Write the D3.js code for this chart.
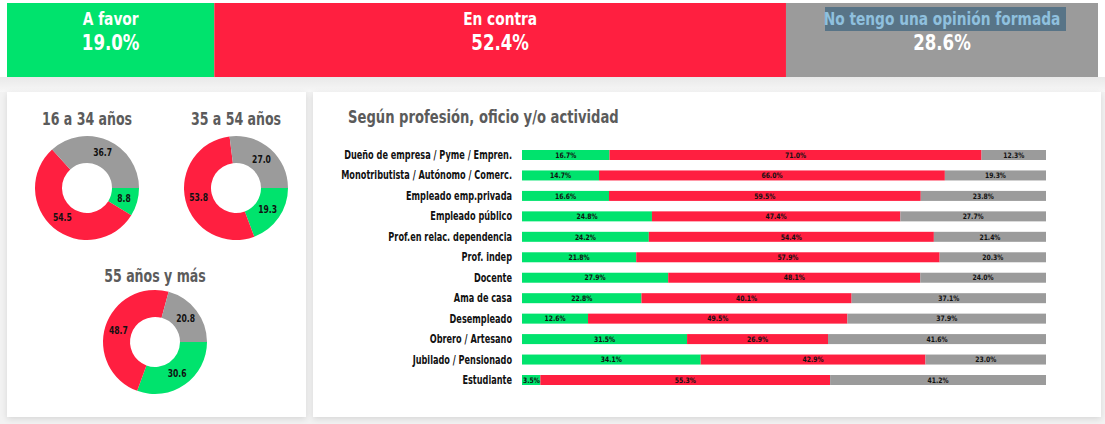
<!DOCTYPE html>
<html>
<head>
<meta charset="utf-8">
<script src="https://cdn.jsdelivr.net/npm/d3@7"></script>
<style>
  html, body { margin: 0; padding: 0; background: #f3f3f3; }
  svg { display: block; }
  text { font-family: "DejaVu Sans Condensed", "Liberation Sans Narrow", "Liberation Sans", sans-serif; font-weight: bold; }
</style>
</head>
<body>
<svg id="chart" width="1105" height="424"></svg>
<script>
// ---- Data ----
const topCategories = ["A favor", "En contra", "No tengo una opinión formada"];
const topValues = [19.0, 52.4, 28.6];

const ageGroups = ["16 a 34 años", "35 a 54 años", "55 años y más"];
const ageFavor = [8.8, 19.3, 30.6];
const ageContra = [54.5, 53.8, 48.7];
const ageNoOpinion = [36.7, 27.0, 20.8];

const profTitle = "Según profesión, oficio y/o actividad";
const professions = [
  "Dueño de empresa / Pyme / Empren.",
  "Monotributista / Autónomo / Comerc.",
  "Empleado emp.privada",
  "Empleado público",
  "Prof.en relac. dependencia",
  "Prof. indep",
  "Docente",
  "Ama de casa",
  "Desempleado",
  "Obrero / Artesano",
  "Jubilado / Pensionado",
  "Estudiante"
];
const profFavor =     [16.7, 14.7, 16.6, 24.8, 24.2, 21.8, 27.9, 22.8, 12.6, 31.5, 34.1, 3.5];
const profContra =    [71.0, 66.0, 59.5, 47.4, 54.4, 57.9, 48.1, 40.1, 49.5, 26.9, 42.9, 55.3];
const profNoOpinion = [12.3, 19.3, 23.8, 27.7, 21.4, 20.3, 24.0, 37.1, 37.9, 41.6, 23.0, 41.2];

const colors = ["#00e36d", "#ff1f40", "#9b9b9b"];

// ---- Drawing ----
const svg = d3.select("#chart");

// condensed text helper: horizontal squeeze around the anchor point
function ctext(parent, x, y, str, size, fill, anchor, sx) {
  const g = parent.append("g").attr("transform", `translate(${x},${y}) scale(${sx},1)`);
  return g.append("text").attr("x", 0).attr("y", 0).attr("text-anchor", anchor)
    .attr("font-size", size).attr("fill", fill).text(str);
}

const defs = svg.append("defs");
const sh = defs.append("filter").attr("id", "shadow").attr("x", "-5%").attr("y", "-5%").attr("width", "110%").attr("height", "110%");
sh.append("feGaussianBlur").attr("in", "SourceAlpha").attr("stdDeviation", 3).attr("result", "b");
sh.append("feOffset").attr("in", "b").attr("dx", 0).attr("dy", 2).attr("result", "o");
sh.append("feComponentTransfer").attr("in", "o").attr("result", "o2")
  .append("feFuncA").attr("type", "linear").attr("slope", 0.12);
const m = sh.append("feMerge");
m.append("feMergeNode").attr("in", "o2");
m.append("feMergeNode").attr("in", "SourceGraphic");

svg.append("rect").attr("x", 0).attr("y", 0).attr("width", 1105).attr("height", 424).attr("fill", "#f2f2f2");
svg.append("rect").attr("x", 0).attr("y", 0).attr("width", 1105).attr("height", 80).attr("fill", "#ffffff");
const grad = defs.append("linearGradient").attr("id", "g1").attr("x1", 0).attr("y1", 0).attr("x2", 0).attr("y2", 1);
grad.append("stop").attr("offset", 0).attr("stop-color", "#e9e9e9");
grad.append("stop").attr("offset", 1).attr("stop-color", "#f7f7f7");
svg.append("rect").attr("x", 0).attr("y", 77).attr("width", 1105).attr("height", 15).attr("fill", "url(#g1)");

svg.append("rect").attr("x", 7).attr("y", 92).attr("width", 299).attr("height", 325).attr("fill", "#fff").attr("filter", "url(#shadow)");
svg.append("rect").attr("x", 313).attr("y", 92).attr("width", 788).attr("height", 325).attr("fill", "#fff").attr("filter", "url(#shadow)");

// ---- Top stacked bar ----
const xTop = d3.scaleLinear().domain([0, 100]).range([7, 1098]);
let acc = 0;
const topData = topValues.map((v, i) => { const d = { cat: topCategories[i], v, x0: acc, x1: acc + v, c: colors[i] }; acc += v; return d; });
const tg = svg.append("g");
tg.selectAll("rect").data(topData).join("rect")
  .attr("x", d => xTop(d.x0)).attr("y", 3)
  .attr("width", d => xTop(d.x1) - xTop(d.x0)).attr("height", 74)
  .attr("fill", d => d.c);

topData.forEach((d, i) => {
  const cx = (xTop(d.x0) + xTop(d.x1)) / 2;
  if (i === 2) {
    tg.append("rect").attr("x", 825).attr("y", 7).attr("width", 241).attr("height", 24).attr("fill", "#587487");
  }
  ctext(tg, cx, 25, d.cat, 17, i === 2 ? "#8fc0de" : "#fff", "middle", 0.9);
  ctext(tg, cx, 49.5, d.v.toFixed(1) + "%", 20.5, "#fff", "middle", 0.9);
});

// ---- Donuts ----
const donutPos = [[87, 188, 125], [236, 188, 125], [155, 342, 282]];
const pie = d3.pie().sort(null).startAngle(Math.PI / 2).endAngle(Math.PI / 2 + 2 * Math.PI);
const arc = d3.arc().innerRadius(25).outerRadius(52);
const labelArc = d3.arc().innerRadius(38.5).outerRadius(38.5);

ageGroups.forEach((name, i) => {
  const [cx, cy, ty] = donutPos[i];
  ctext(svg, cx, ty, name, 17.5, "#5b5b5b", "middle", 0.8);
  const vals = [ageFavor[i], ageContra[i], ageNoOpinion[i]];
  const g = svg.append("g").attr("transform", `translate(${cx},${cy})`);
  const arcs = pie(vals);
  g.selectAll("path").data(arcs).join("path").attr("d", arc).attr("fill", (d, j) => colors[j]);
  arcs.forEach(d => {
    const [lx, ly] = labelArc.centroid(d);
    ctext(g, lx, ly + 3.5, d.data.toFixed(1), 10, "#111", "middle", 0.85);
  });
});

// ---- Profession stacked bars ----
ctext(svg, 348, 123, profTitle, 17, "#5b5b5b", "start", 0.86);

const x = d3.scaleLinear().domain([0, 100]).range([522, 1046]);
const y = d3.scalePoint().domain(professions).range([155, 380]);
const barH = 10;

const rows = professions.map((p, i) => {
  const vals = [profFavor[i], profContra[i], profNoOpinion[i]];
  let a = 0;
  return { p, segs: vals.map((v, j) => { const s = { v, x0: a, x1: a + v, c: colors[j] }; a += v; return s; }) };
});
rows.forEach(r => { r.segs[2].x1 = 100; });

const rg = svg.append("g");
rows.forEach(r => {
  const g = rg.append("g");
  ctext(g, 512, y(r.p) + 4, r.p, 11.5, "#111", "end", 0.79);
  g.selectAll("rect").data(r.segs).join("rect")
    .attr("x", d => x(d.x0)).attr("y", y(r.p) - barH / 2)
    .attr("width", d => x(d.x1) - x(d.x0)).attr("height", barH)
    .attr("fill", d => d.c);
  r.segs.forEach(d => {
    const small = (d.x1 - d.x0) < 6;
    ctext(g, small ? x(d.x0) + 1 : (x(d.x0) + x(d.x1)) / 2, y(r.p) + 2.7,
      d.v.toFixed(1) + "%", 7.5, "#111", small ? "start" : "middle", 0.9);
  });
});
</script>
</body>
</html>
